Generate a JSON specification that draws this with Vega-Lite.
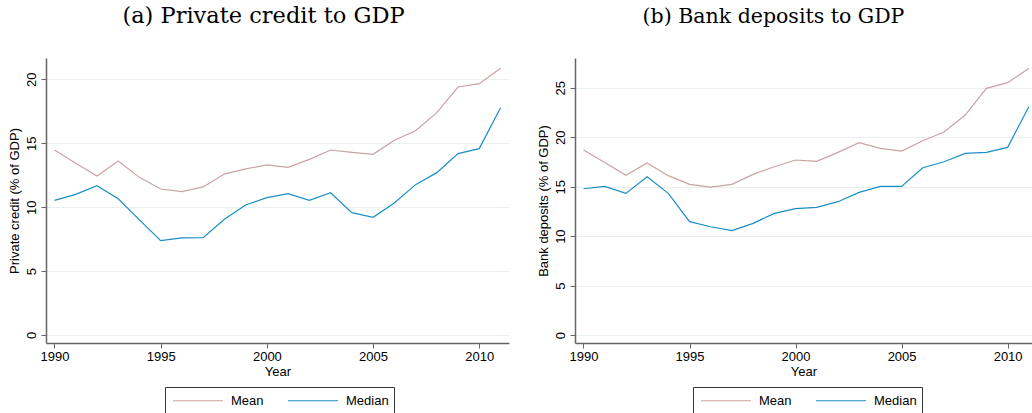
{
  "$schema": "https://vega.github.io/schema/vega-lite/v6.json",
  "padding": {"left": 8, "top": 4, "right": 0, "bottom": 0},
  "background": "white",
  "config": {
    "view": {"stroke": null},
    "font": "Liberation Sans",
    "axis": {"domainColor": "#666666", "tickColor": "#666666", "labelColor": "#000000", "titleColor": "#000000", "labelFontSize": 13, "titleFontSize": 13, "titleFontWeight": "normal", "domainWidth": 1.5, "tickSize": 5},
    "title": {"font": "DejaVu Serif", "fontSize": 21, "fontWeight": "normal", "color": "#000000"}
  },
  "datasets": {
    "credit": [
      {"year": 1990, "stat": "Mean", "v": 14.47}, {"year": 1991, "stat": "Mean", "v": 13.43}, {"year": 1992, "stat": "Mean", "v": 12.44}, {"year": 1993, "stat": "Mean", "v": 13.61}, {"year": 1994, "stat": "Mean", "v": 12.33}, {"year": 1995, "stat": "Mean", "v": 11.42}, {"year": 1996, "stat": "Mean", "v": 11.21}, {"year": 1997, "stat": "Mean", "v": 11.58}, {"year": 1998, "stat": "Mean", "v": 12.59}, {"year": 1999, "stat": "Mean", "v": 12.99}, {"year": 2000, "stat": "Mean", "v": 13.30}, {"year": 2001, "stat": "Mean", "v": 13.12}, {"year": 2002, "stat": "Mean", "v": 13.74}, {"year": 2003, "stat": "Mean", "v": 14.47}, {"year": 2004, "stat": "Mean", "v": 14.29}, {"year": 2005, "stat": "Mean", "v": 14.13}, {"year": 2006, "stat": "Mean", "v": 15.23}, {"year": 2007, "stat": "Mean", "v": 15.98}, {"year": 2008, "stat": "Mean", "v": 17.39}, {"year": 2009, "stat": "Mean", "v": 19.40}, {"year": 2010, "stat": "Mean", "v": 19.66}, {"year": 2011, "stat": "Mean", "v": 20.86},
      {"year": 1990, "stat": "Median", "v": 10.53}, {"year": 1991, "stat": "Median", "v": 11.00}, {"year": 1992, "stat": "Median", "v": 11.68}, {"year": 1993, "stat": "Median", "v": 10.66}, {"year": 1994, "stat": "Median", "v": 9.00}, {"year": 1995, "stat": "Median", "v": 7.38}, {"year": 1996, "stat": "Median", "v": 7.59}, {"year": 1997, "stat": "Median", "v": 7.61}, {"year": 1998, "stat": "Median", "v": 9.05}, {"year": 1999, "stat": "Median", "v": 10.17}, {"year": 2000, "stat": "Median", "v": 10.74}, {"year": 2001, "stat": "Median", "v": 11.06}, {"year": 2002, "stat": "Median", "v": 10.53}, {"year": 2003, "stat": "Median", "v": 11.13}, {"year": 2004, "stat": "Median", "v": 9.57}, {"year": 2005, "stat": "Median", "v": 9.20}, {"year": 2006, "stat": "Median", "v": 10.33}, {"year": 2007, "stat": "Median", "v": 11.76}, {"year": 2008, "stat": "Median", "v": 12.70}, {"year": 2009, "stat": "Median", "v": 14.19}, {"year": 2010, "stat": "Median", "v": 14.58}, {"year": 2011, "stat": "Median", "v": 17.78}
    ],
    "deposits": [
      {"year": 1990, "stat": "Mean", "v": 18.70}, {"year": 1991, "stat": "Mean", "v": 17.45}, {"year": 1992, "stat": "Mean", "v": 16.14}, {"year": 1993, "stat": "Mean", "v": 17.39}, {"year": 1994, "stat": "Mean", "v": 16.11}, {"year": 1995, "stat": "Mean", "v": 15.23}, {"year": 1996, "stat": "Mean", "v": 14.96}, {"year": 1997, "stat": "Mean", "v": 15.23}, {"year": 1998, "stat": "Mean", "v": 16.24}, {"year": 1999, "stat": "Mean", "v": 17.01}, {"year": 2000, "stat": "Mean", "v": 17.69}, {"year": 2001, "stat": "Mean", "v": 17.55}, {"year": 2002, "stat": "Mean", "v": 18.46}, {"year": 2003, "stat": "Mean", "v": 19.44}, {"year": 2004, "stat": "Mean", "v": 18.87}, {"year": 2005, "stat": "Mean", "v": 18.60}, {"year": 2006, "stat": "Mean", "v": 19.64}, {"year": 2007, "stat": "Mean", "v": 20.52}, {"year": 2008, "stat": "Mean", "v": 22.24}, {"year": 2009, "stat": "Mean", "v": 24.93}, {"year": 2010, "stat": "Mean", "v": 25.51}, {"year": 2011, "stat": "Mean", "v": 26.95},
      {"year": 1990, "stat": "Median", "v": 14.79}, {"year": 1991, "stat": "Median", "v": 15.03}, {"year": 1992, "stat": "Median", "v": 14.32}, {"year": 1993, "stat": "Median", "v": 16.00}, {"year": 1994, "stat": "Median", "v": 14.32}, {"year": 1995, "stat": "Median", "v": 11.46}, {"year": 1996, "stat": "Median", "v": 10.95}, {"year": 1997, "stat": "Median", "v": 10.55}, {"year": 1998, "stat": "Median", "v": 11.29}, {"year": 1999, "stat": "Median", "v": 12.30}, {"year": 2000, "stat": "Median", "v": 12.77}, {"year": 2001, "stat": "Median", "v": 12.90}, {"year": 2002, "stat": "Median", "v": 13.48}, {"year": 2003, "stat": "Median", "v": 14.42}, {"year": 2004, "stat": "Median", "v": 15.03}, {"year": 2005, "stat": "Median", "v": 15.03}, {"year": 2006, "stat": "Median", "v": 16.91}, {"year": 2007, "stat": "Median", "v": 17.52}, {"year": 2008, "stat": "Median", "v": 18.36}, {"year": 2009, "stat": "Median", "v": 18.46}, {"year": 2010, "stat": "Median", "v": 18.97}, {"year": 2011, "stat": "Median", "v": 23.08}
    ]
  },
  "spacing": 28,
  "resolve": {"legend": {"color": "independent"}, "scale": {"y": "independent", "x": "independent"}},
  "hconcat": [
    {
      "title": {"text": "(a) Private credit to GDP", "offset": 34, "dx": -14, "dy": 3, "fontSize": 22.5},
      "width": 463,
      "height": 285,
      "data": {"name": "credit"},
      "mark": {"type": "line", "strokeWidth": 1.2, "clip": true},
      "encoding": {
        "x": {"field": "year", "type": "quantitative", "title": "Year", "scale": {"domain": [1989.6, 2011.4], "nice": false, "zero": false}, "axis": {"values": [1990, 1995, 2000, 2005, 2010], "format": "d", "grid": false, "titlePadding": 2, "labelPadding": 2}},
        "y": {"field": "v", "type": "quantitative", "title": "Private credit (% of GDP)", "scale": {"domain": [-0.63, 21.67], "nice": false, "zero": false}, "axis": {"values": [0, 5, 10, 15, 20], "labelAngle": -90, "labelAlign": "center", "labelBaseline": "bottom", "grid": true, "gridColor": "#e8f0f0", "gridWidth": 1, "titlePadding": 4, "labelPadding": 3}},
        "color": {"field": "stat", "type": "nominal", "scale": {"domain": ["Mean", "Median"], "range": ["#c9a3a3", "#1a8fc6"]}, "legend": {"title": null, "orient": "none", "legendX": 119, "legendY": 329, "direction": "horizontal", "strokeColor": "#333333", "padding": 5, "symbolType": "M-0.733,0H5.933", "symbolSize": 225, "symbolStrokeWidth": 1.2, "labelFontSize": 13, "labelFont": "Liberation Sans", "columnPadding": 21, "labelOffset": 44}}
      }
    },
    {
      "title": {"text": "(b) Bank deposits to GDP", "offset": 34, "dx": -30, "dy": 3, "fontSize": 20.5},
      "width": 457,
      "height": 285,
      "data": {"name": "deposits"},
      "mark": {"type": "line", "strokeWidth": 1.2, "clip": true},
      "encoding": {
        "x": {"field": "year", "type": "quantitative", "title": "Year", "scale": {"domain": [1989.6, 2011.15], "nice": false, "zero": false}, "axis": {"values": [1990, 1995, 2000, 2005, 2010], "format": "d", "grid": false, "titlePadding": 2, "labelPadding": 2}},
        "y": {"field": "v", "type": "quantitative", "title": "Bank deposits (% of GDP)", "scale": {"domain": [-0.8, 28.0], "nice": false, "zero": false}, "axis": {"values": [0, 5, 10, 15, 20, 25], "labelAngle": -90, "labelAlign": "center", "labelBaseline": "bottom", "grid": true, "gridColor": "#e8f0f0", "gridWidth": 1, "titlePadding": 4, "labelPadding": 3}},
        "color": {"field": "stat", "type": "nominal", "scale": {"domain": ["Mean", "Median"], "range": ["#c9a3a3", "#1a8fc6"]}, "legend": {"title": null, "orient": "none", "legendX": 118, "legendY": 329, "direction": "horizontal", "strokeColor": "#333333", "padding": 5, "symbolType": "M-0.733,0H5.933", "symbolSize": 225, "symbolStrokeWidth": 1.2, "labelFontSize": 13, "labelFont": "Liberation Sans", "columnPadding": 21, "labelOffset": 44}}
      }
    }
  ]
}
